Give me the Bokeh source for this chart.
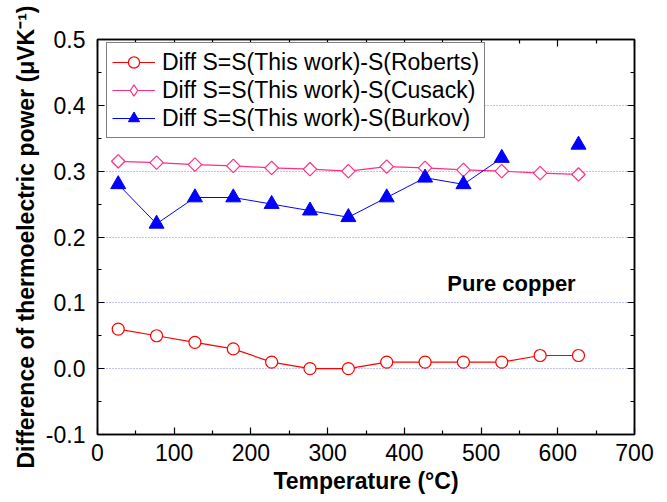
import math
from bokeh.plotting import figure
from bokeh.models import (Range1d, FixedTicker, LinearAxis, Legend, LegendItem,
                          Label, NumeralTickFormatter, CustomLabelingPolicy)
from bokeh.embed import file_html
from bokeh.resources import INLINE

# Temperature (°C) of each measurement
temperature = [27, 77, 127, 177, 227, 277, 327, 377, 427, 477, 527, 577, 627]

# Difference of thermoelectric power (µV/K) against each reference data set
diff_roberts = [0.06, 0.05, 0.04, 0.03, 0.01, 0.00, 0.00, 0.01, 0.01, 0.01, 0.01, 0.02, 0.02]
diff_cusack = [0.315, 0.313, 0.310, 0.308, 0.305, 0.303, 0.300, 0.307, 0.305, 0.302, 0.300, 0.297, 0.295]
diff_burkov = [0.28, 0.22, 0.26, 0.26, 0.25, 0.24, 0.23, 0.26, 0.29, 0.28, 0.32, math.nan, 0.34]

labels = [
    "Diff S=S(This work)-S(Roberts)",
    "Diff S=S(This work)-S(Cusack)",
    "Diff S=S(This work)-S(Burkov)",
]

x_ticks = [0, 100, 200, 300, 400, 500, 600, 700]
x_minor = [50, 150, 250, 350, 450, 550, 650]
y_ticks = [-0.1, 0.0, 0.1, 0.2, 0.3, 0.4, 0.5]
y_minor = [-0.05, 0.05, 0.15, 0.25, 0.35, 0.45]
grid_ticks = [0.0, 0.1, 0.2, 0.3, 0.4]

FONT = "Liberation Sans"
RED = "#ff0000"
PINK = "#ff2d8a"
BLUE = "#0000ff"

p = figure(width=667, height=502, x_range=Range1d(0, 700), y_range=Range1d(-0.1, 0.5),
           output_backend="svg", toolbar_location=None,
           min_border_left=97, min_border_right=33, min_border_top=39, min_border_bottom=68)

p.outline_line_color = "black"
p.outline_line_width = 1.5
p.background_fill_color = "white"
p.border_fill_color = "white"

p.xgrid.visible = False
p.ygrid.ticker = FixedTicker(ticks=grid_ticks)
p.ygrid.grid_line_color = "#8080ff"
p.ygrid.grid_line_dash = "1 2"
p.ygrid.grid_line_width = 1

# mirror axes carry ticks only: the policy drops every label
no_labels = CustomLabelingPolicy(code="""
    for (const i of indices) indices.unset(i)
    return indices
""")

def style_axis(ax, show_labels):
    ax.axis_line_color = "black"
    ax.axis_line_width = 1.5
    ax.major_tick_in = 7
    ax.major_tick_out = 0
    ax.minor_tick_in = 4
    ax.minor_tick_out = 0
    ax.major_tick_line_width = 1.2
    ax.minor_tick_line_width = 1.2
    ax.major_label_text_font = FONT
    ax.major_label_text_color = "black"
    ax.axis_label_text_color = "black"
    if show_labels:
        ax.major_label_text_font_size = "23px"
        ax.major_label_standoff = 10
    else:
        ax.major_label_text_font_size = "1px"
        ax.major_label_standoff = 0
        ax.major_label_policy = no_labels

xax = p.xaxis[0]
xax.ticker = FixedTicker(ticks=x_ticks, minor_ticks=x_minor)
style_axis(xax, True)
xax.major_label_standoff = 9
xax.axis_label = "Temperature (°C)"
xax.axis_label_text_font = FONT
xax.axis_label_text_font_size = "23px"
xax.axis_label_text_font_style = "bold"
xax.axis_label_standoff = 4

yax = p.yaxis[0]
yax.ticker = FixedTicker(ticks=y_ticks, minor_ticks=y_minor)
yax.formatter = NumeralTickFormatter(format="0.0")
style_axis(yax, True)
yax.major_label_standoff = 12
yax.axis_label = "Difference of thermoelectric power (μVK⁻¹)"
yax.axis_label_text_font = FONT
yax.axis_label_text_font_size = "23px"
yax.axis_label_text_font_style = "bold"
yax.axis_label_standoff = 4

top = LinearAxis(ticker=FixedTicker(ticks=x_ticks, minor_ticks=x_minor))
style_axis(top, False)
p.add_layout(top, "above")
right = LinearAxis(ticker=FixedTicker(ticks=y_ticks, minor_ticks=y_minor))
style_axis(right, False)
p.add_layout(right, "right")

# series: connecting lines under open / filled markers
l1 = p.line(temperature, diff_roberts, line_color=RED, line_width=1.2)
m1 = p.scatter(temperature, diff_roberts, marker="circle", size=12,
               line_color=RED, line_width=1.2, fill_color="white")

l2 = p.line(temperature, diff_cusack, line_color=PINK, line_width=1.2)
# diamond key used by the legend (the legend never rotates markers); the
# rotated open squares drawn on top of it give the plotted diamonds
key2 = p.scatter(temperature, diff_cusack, marker="diamond", size=12,
                 line_color=PINK, line_width=1.2, fill_color="white")
m2 = p.scatter(temperature, diff_cusack, marker="square", size=9.5, angle=math.pi / 4,
               line_color=PINK, line_width=1.2, fill_color="white")

l3 = p.line(temperature, diff_burkov, line_color=BLUE, line_width=1)
m3 = p.scatter(temperature, diff_burkov, marker="triangle", size=15,
               line_color=BLUE, fill_color=BLUE)

legend = Legend(items=[
    LegendItem(label=labels[0], renderers=[l1, m1]),
    LegendItem(label=labels[1], renderers=[l2, key2]),
    LegendItem(label=labels[2], renderers=[l3, m3]),
], location=(9, 296))
legend.border_line_color = "black"
legend.border_line_width = 1.2
legend.background_fill_color = "white"
legend.background_fill_alpha = 1
legend.label_text_font = FONT
legend.label_text_font_size = "23px"
legend.label_text_color = "black"
legend.glyph_width = 43
legend.glyph_height = 28
legend.label_height = 24
legend.label_standoff = 7
legend.spacing = -1
legend.padding = 5
legend.margin = 0
p.add_layout(legend, "center")

p.add_layout(Label(x=456, y=0.129, text="Pure copper", text_font=FONT,
                   text_font_size="22px", text_font_style="bold",
                   text_color="black", text_baseline="alphabetic"))

open("out.html", "w").write(file_html(p, INLINE))
